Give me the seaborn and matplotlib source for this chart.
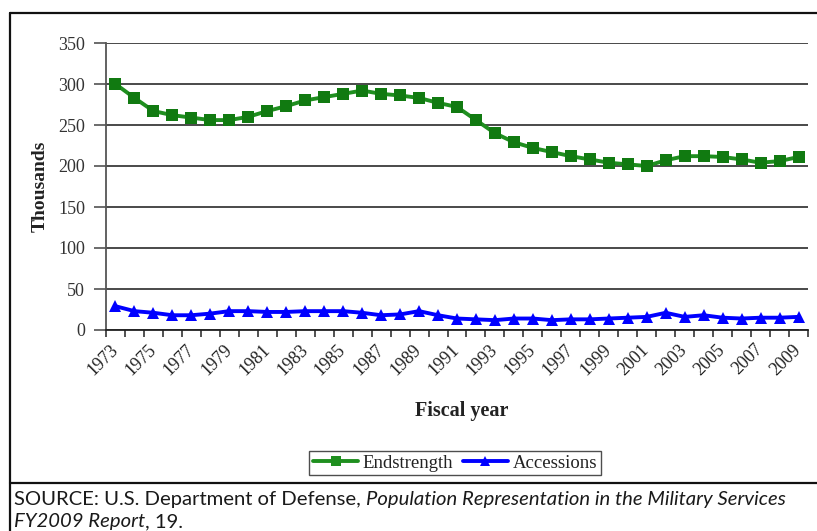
import matplotlib
matplotlib.use("Agg")
import matplotlib.pyplot as plt
from matplotlib.lines import Line2D
from matplotlib.ticker import FixedLocator, NullFormatter, FixedFormatter
from matplotlib.transforms import ScaledTranslation
import numpy as np
import pandas as pd
import seaborn as sns

# Fiscal years and series values (thousands)
years = list(range(1973, 2010))
endstrength = [300, 283, 267, 262, 259, 256, 256, 260, 267, 273, 280, 284, 288, 292,
               288, 286, 283, 277, 272, 256, 240, 229, 222, 217, 212, 208, 204, 202,
               200, 207, 212, 212, 211, 208, 204, 206, 211]
accessions = [29, 23, 21, 18, 18, 20, 23, 23, 22, 22, 23, 23, 23, 21,
              18, 19, 23, 18, 14, 13, 12, 14, 14, 12, 13, 13, 14, 15,
              16, 21, 16, 18, 15, 14, 15, 15, 16]
series_names = ["Endstrength", "Accessions"]
year_labels = [str(y) for y in range(1973, 2010, 2)]
y_ticks = [0, 50, 100, 150, 200, 250, 300, 350]

df = pd.DataFrame({
    "year": years * 2,
    "value": endstrength + accessions,
    "series": [series_names[0]] * len(years) + [series_names[1]] * len(years),
})

sns.set_theme(style="white")
plt.rcParams["font.family"] = ["Liberation Serif", "DejaVu Serif"]

W, H = 817, 531
fig = plt.figure(figsize=(W / 100, H / 100), dpi=100)
fig.patch.set_facecolor("white")

def px(x0, y0, x1, y1):
    return [x0 / W, 1 - y1 / H, (x1 - x0) / W, (y1 - y0) / H]

ax = fig.add_axes(px(106, 43, 808, 330))

palette = {"Endstrength": "#1f8f1f", "Accessions": "#0000ff"}
markers = {"Endstrength": "s", "Accessions": "^"}
sns.lineplot(data=df, x="year", y="value", hue="series", style="series",
             palette=palette, markers=markers, dashes=False, lw=2.8,
             markersize=8, markeredgewidth=0, ax=ax, legend=False)
for ln in ax.lines:
    if ln.get_color() == "#1f8f1f":
        ln.set_markerfacecolor("#117a11")

ax.set_xlim(1972.5, 2009.5)
ax.set_ylim(0, 350)
ax.set_yticks(y_ticks)
ax.set_yticklabels([str(v) for v in y_ticks])
ax.yaxis.grid(True, color="#3a3a3a", lw=1.3)
ax.set_axisbelow(True)

# category boundary ticks, labels on every other year
ax.xaxis.set_major_locator(FixedLocator(np.arange(1972.5, 2010, 1.0)))
ax.xaxis.set_major_formatter(NullFormatter())
ax.xaxis.set_minor_locator(FixedLocator(list(range(1973, 2010, 2))))
ax.xaxis.set_minor_formatter(FixedFormatter(year_labels))
ax.tick_params(axis="x", which="major", direction="out", length=5, width=1.1,
               color="#222222", bottom=True)
ax.tick_params(axis="x", which="minor", length=0, pad=8, labelsize=13,
               labelcolor="#222222")
shift = ScaledTranslation(-6 / 100, 0, fig.dpi_scale_trans)
for lab in ax.xaxis.get_minorticklabels():
    lab.set_rotation(45)
    lab.set_ha("right")
    lab.set_rotation_mode("anchor")
    lab.set_transform(lab.get_transform() + shift)
ax.tick_params(axis="y", direction="out", length=9, width=1.1, color="#444444",
               left=True, labelsize=13, labelcolor="#333333", pad=6)

for side in ["top", "right"]:
    ax.spines[side].set_visible(False)
ax.spines["left"].set_color("#555555")
ax.spines["left"].set_linewidth(1.3)
ax.spines["bottom"].set_color("#222222")
ax.spines["bottom"].set_linewidth(1.3)

ax.set_xlabel("")
ax.set_ylabel("")
fig.text(40 / W, 1 - 186 / H, "Thousands", rotation=90, ha="center", va="center",
         fontsize=14, fontweight="bold", color="#222222")
fig.text(462 / W, 1 - 411 / H, "Fiscal year", ha="center", va="center",
         fontsize=14.5, fontweight="bold", color="#222222")

handles = [
    Line2D([], [], color=palette[s], marker=markers[s], lw=2.8, markersize=7.5,
           markeredgewidth=0)
    for s in series_names
]
leg = fig.legend(handles, series_names, loc="center", bbox_to_anchor=(455 / W, 1 - 463 / H),
                 ncol=2, frameon=True, fancybox=False, edgecolor="#222222",
                 fontsize=13.5, handlelength=2.4, handletextpad=0.25, columnspacing=0.5,
                 borderpad=0.2, borderaxespad=0)
leg.get_frame().set_linewidth(1.0)
for t in leg.get_texts():
    t.set_color("#222222")

# outer frame and separator
frame_kw = dict(color="#111111", lw=1.6, transform=fig.transFigure)
fig.add_artist(Line2D([10 / W, 1], [1 - 13 / H, 1 - 13 / H], **frame_kw))
fig.add_artist(Line2D([10 / W, 10 / W], [1 - 13 / H, 0], **frame_kw))
fig.add_artist(Line2D([10 / W, 1], [1 - 483 / H, 1 - 483 / H], **frame_kw))

# source note with mixed roman / italic runs
src_font = ["Lato", "DejaVu Sans"]
renderer = fig.canvas.get_renderer()

def run_line(parts, x0, y0):
    x = x0
    for text, style in parts:
        t = fig.text(x / W, 1 - y0 / H, text, fontsize=14.6, family=src_font,
                     style=style, color="#1a1a1a", ha="left", va="baseline")
        bb = t.get_window_extent(renderer=renderer)
        x += bb.width

run_line([("SOURCE: U.S. Department of Defense, ", "normal"),
          ("Population Representation in the Military Services", "italic")], 14, 505)
run_line([("FY2009 Report", "italic"), (", 19.", "normal")], 14, 527)

fig.savefig("out.png", dpi=100, facecolor="white")
